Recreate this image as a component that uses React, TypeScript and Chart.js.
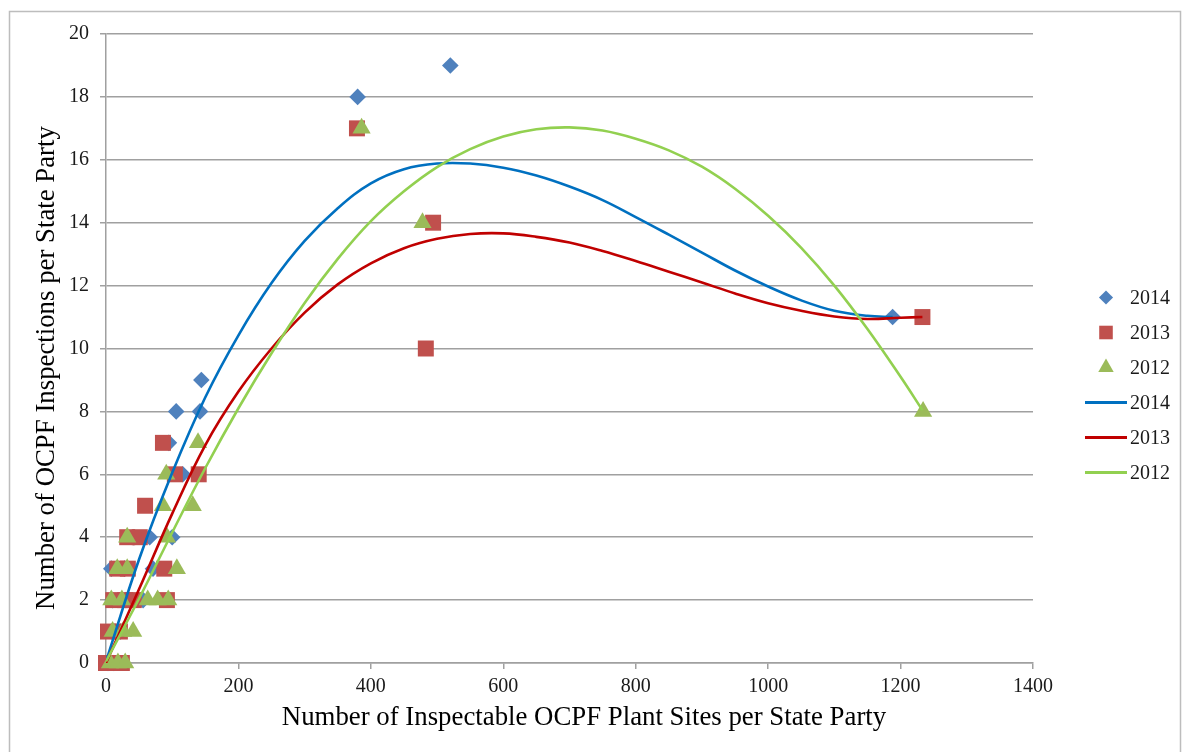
import React, { useEffect, useRef } from 'react';
import { Chart, registerables } from 'chart.js';
import { drawPoint } from 'chart.js/helpers';

Chart.register(...registerables);

const FONT = "'Liberation Serif', 'Times New Roman', serif";

// ---- data ----
const seriesLabels = ['2014', '2013', '2012'];

const x2014 = [3, 12, 8, 22, 10, 30, 56, 8, 28, 71, 42, 66, 100, 116, 95, 106, 142, 144, 380, 520, 1188];
const y2014 = [0, 0, 1, 1, 2, 2, 2, 3, 3, 3, 4, 4, 4, 6, 7, 8, 8, 9, 18, 19, 11];

const x2013 = [0, 24, 3, 21, 11, 29, 42, 92, 17, 33, 88, 32, 51, 59, 104, 140, 86, 379, 494, 483, 1233];
const y2013 = [0, 0, 1, 1, 2, 2, 2, 2, 3, 3, 3, 4, 4, 5, 6, 6, 7, 17, 14, 10, 11];

const x2012 = [6, 18, 29, 10, 26, 41, 8, 24, 63, 78, 94, 17, 32, 107, 32, 92, 86, 131, 91, 139, 386, 478, 1234];
const y2012 = [0, 0, 0, 1, 1, 1, 2, 2, 2, 2, 2, 3, 3, 3, 4, 4, 5, 5, 6, 7, 17, 14, 8];

// trendlines, sampled along the drawn curves
const trendX2014 = [0, 50, 100, 150, 200, 250, 300, 350, 400, 450, 500, 550, 600, 650, 700, 750, 800, 850, 900, 950, 1000, 1050, 1100, 1150, 1188];
const trendY2014 = [0.05, 3.3, 6.05, 8.45, 10.42, 12.08, 13.42, 14.46, 15.25, 15.7, 15.88, 15.88, 15.75, 15.5, 15.15, 14.72, 14.18, 13.62, 13.05, 12.48, 11.97, 11.53, 11.2, 11.04, 11.0];

const trendX2013 = [0, 50, 100, 150, 200, 250, 300, 350, 400, 450, 500, 550, 600, 650, 700, 750, 800, 850, 900, 950, 1000, 1050, 1100, 1150, 1200, 1233];
const trendY2013 = [0.0, 2.35, 4.75, 6.93, 8.63, 10.0, 11.14, 12.04, 12.71, 13.19, 13.49, 13.64, 13.66, 13.55, 13.37, 13.1, 12.78, 12.44, 12.1, 11.75, 11.44, 11.2, 11.02, 10.94, 10.98, 11.0];

const trendX2012 = [0, 50, 100, 150, 200, 250, 300, 350, 400, 450, 500, 550, 600, 650, 700, 750, 800, 850, 900, 950, 1000, 1050, 1100, 1150, 1200, 1233];
const trendY2012 = [0.05, 2.05, 4.15, 6.2, 8.1, 9.85, 11.45, 12.85, 14.05, 15.0, 15.77, 16.34, 16.74, 16.97, 17.03, 16.93, 16.67, 16.3, 15.78, 15.08, 14.22, 13.2, 12.0, 10.62, 9.1, 8.04];

const xTickValues = [0, 200, 400, 600, 800, 1000, 1200, 1400];
const yTickValues = [0, 2, 4, 6, 8, 10, 12, 14, 16, 18, 20];

const xTitle = 'Number of Inspectable OCPF Plant Sites per State Party';
const yTitle = 'Number of OCPF Inspections per State Party';

const pts = (xs: number[], ys: number[]) => xs.map((x, i) => ({ x, y: ys[i] }));

const GRID = '#a0a0a0';
const TEXT = '#1a1a1a';

const framePlugin = {
  id: 'frame',
  beforeDraw(chart: any) {
    const { ctx, width, height } = chart;
    ctx.save();
    ctx.fillStyle = '#ffffff';
    ctx.fillRect(0, 0, width, height);
    ctx.strokeStyle = '#bdbdbd';
    ctx.lineWidth = 1.5;
    ctx.strokeRect(9.5, 11.5, 1171, 760);
    ctx.restore();
  },
};

const titlesPlugin = {
  id: 'axisTitles',
  afterDraw(chart: any) {
    const { ctx } = chart;
    ctx.save();
    ctx.fillStyle = '#000';
    ctx.font = `26.8px ${FONT}`;
    ctx.textAlign = 'center';
    ctx.textBaseline = 'middle';
    ctx.fillText(xTitle, 584, 718);
    ctx.translate(47, 368);
    ctx.rotate(-Math.PI / 2);
    ctx.fillText(yTitle, 0, 0);
    ctx.restore();
  },
};

const legendPlugin = {
  id: 'sideLegend',
  afterDraw(chart: any) {
    const { ctx } = chart;
    const dsets = chart.data.datasets;
    ctx.save();
    ctx.font = `20px ${FONT}`;
    ctx.textAlign = 'left';
    ctx.textBaseline = 'middle';
    dsets.forEach((ds: any, i: number) => {
      const y = 297.5 + i * 35;
      if (ds.showLine) {
        ctx.strokeStyle = ds.borderColor;
        ctx.lineWidth = 3;
        ctx.beginPath();
        ctx.moveTo(1085, y);
        ctx.lineTo(1127, y);
        ctx.stroke();
      } else {
        ctx.fillStyle = ds.backgroundColor;
        ctx.strokeStyle = ds.borderColor;
        drawPoint(ctx, { pointStyle: ds.pointStyle, radius: ds.pointRadius * 0.85, borderWidth: 0, rotation: 0 }, 1106, y);
      }
      ctx.fillStyle = TEXT;
      ctx.fillText(ds.label, 1130, y + 1);
    });
    ctx.restore();
  },
};

export default function App() {
  const ref = useRef<HTMLCanvasElement | null>(null);

  useEffect(() => {
    if (!ref.current) return;
    const mk = (label: string, xs: number[], ys: number[], color: string, style: string, r: number, order: number) => ({
      label,
      data: pts(xs, ys),
      showLine: false,
      pointStyle: style,
      pointRadius: r,
      pointBorderWidth: 0,
      backgroundColor: color,
      borderColor: color,
      pointBackgroundColor: color,
      clip: false,
      order,
    });
    const trend = (label: string, xs: number[], ys: number[], color: string, order: number) => ({
      label,
      data: pts(xs, ys),
      showLine: true,
      pointRadius: 0,
      borderColor: color,
      backgroundColor: color,
      borderWidth: 2.6,
      tension: 0.4,
      fill: false,
      order,
    });
    const chart = new Chart(ref.current, {
      type: 'scatter',
      data: {
        datasets: [
          mk(seriesLabels[0], x2014, y2014, '#4f81bd', 'rectRot', 8.3, 5),
          mk(seriesLabels[1], x2013, y2013, '#c0504d', 'rect', 11.3, 4),
          mk(seriesLabels[2], x2012, y2012, '#9bbb59', 'triangle', 10.5, 3),
          trend(seriesLabels[0], trendX2014, trendY2014, '#0070c0', 2),
          trend(seriesLabels[1], trendX2013, trendY2013, '#c00000', 1),
          trend(seriesLabels[2], trendX2012, trendY2012, '#92d050', 0),
        ] as any,
      },
      options: {
        responsive: false,
        animation: false,
        events: [],
        layout: { padding: { left: 0, top: 34, right: 153, bottom: 0 } },
        plugins: { legend: { display: false }, tooltip: { enabled: false }, title: { display: false } },
        scales: {
          x: {
            type: 'linear',
            min: 0,
            max: 1400,
            afterBuildTicks: (s: any) => { s.ticks = xTickValues.map((v) => ({ value: v })); },
            afterFit: (s: any) => { s.height = 89; },
            ticks: { font: { family: FONT, size: 20 }, color: TEXT, padding: 6, maxRotation: 0, callback: (v: any) => String(v) },
            grid: { drawOnChartArea: false, drawTicks: true, tickLength: 6, color: GRID, lineWidth: 1.5 },
            border: { display: true, color: GRID, width: 1.5 },
          },
          y: {
            type: 'linear',
            min: 0,
            max: 20,
            afterBuildTicks: (s: any) => { s.ticks = yTickValues.map((v) => ({ value: v })); },
            afterFit: (s: any) => { s.width = 106; },
            ticks: { font: { family: FONT, size: 20 }, color: TEXT, padding: 11, callback: (v: any) => String(v) },
            grid: { drawOnChartArea: true, drawTicks: true, tickLength: 6, color: GRID, lineWidth: 1.5 },
            border: { display: true, color: GRID, width: 1.5 },
          },
        },
      } as any,
      plugins: [framePlugin, titlesPlugin, legendPlugin],
    });
    return () => chart.destroy();
  }, []);

  return (
    <div style={{ position: 'absolute', left: 0, top: 0, width: 1186, height: 752 }}>
      <canvas ref={ref} width={1186} height={752} style={{ display: 'block' }} />
    </div>
  );
}
